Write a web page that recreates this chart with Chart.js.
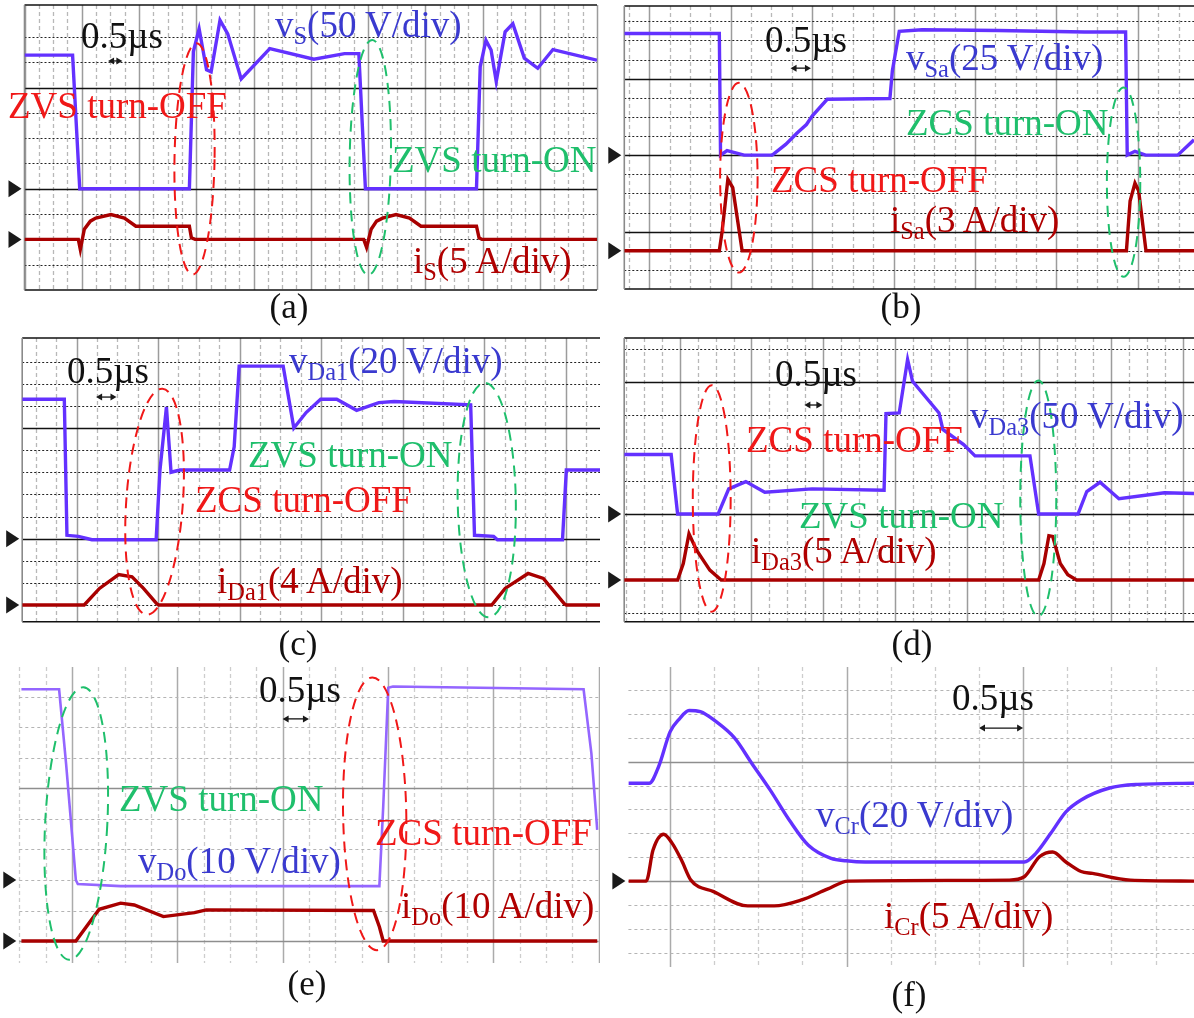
<!DOCTYPE html>
<html lang="en">
<head>
<meta charset="UTF-8" />
<title>Soft-switching waveforms</title>
<script src="https://cdn.jsdelivr.net/npm/chart.js@4.4.1/dist/chart.umd.min.js"></script>
<style>
  *{margin:0;padding:0;box-sizing:border-box}
  body{width:1194px;height:1018px;background:#fff;position:relative;overflow:hidden;font-family:"Liberation Serif","Times New Roman",serif}
  .tile{position:absolute}
  .lbl{position:absolute;white-space:nowrap;line-height:1}
  .lbl sub{font-size:0.66em;vertical-align:-0.28em;line-height:0}
</style>
</head>
<body>
<canvas id="pa" class="tile" width="600" height="330" style="left:0;top:0"></canvas>
<canvas id="pb" class="tile" width="594" height="330" style="left:600px;top:0"></canvas>
<canvas id="pc" class="tile" width="600" height="330" style="left:0;top:330px"></canvas>
<canvas id="pd" class="tile" width="594" height="330" style="left:600px;top:330px"></canvas>
<canvas id="pe" class="tile" width="600" height="358" style="left:0;top:660px"></canvas>
<canvas id="pf" class="tile" width="594" height="358" style="left:600px;top:660px"></canvas>
<script>
const vS  = [[0,264],[1.68,264],[1.93,0],[5.76,0],[5.90,271],[6.10,316],[6.36,235],[6.52,231],[6.83,333],[7.10,306],[7.57,217],[8.57,277],[10.11,256],[11.18,267],[11.68,267],[11.91,0],[15.79,0],[15.92,241],[16.12,293],[16.30,274],[16.48,212],[16.79,310],[17.06,326],[17.46,258],[17.93,238],[18.46,275],[20,254]];
const iS  = [[0,0],[1.88,0],[1.95,-2],[2.09,2],[2.30,3.6],[2.49,4.2],[3.02,4.9],[3.49,4.2],[3.89,2.6],[5.76,2.6],[5.83,0.3],[5.96,0],[11.85,0],[11.95,-1.6],[12.11,2],[12.30,3.6],[12.51,4.2],[12.98,4.9],[13.45,4.2],[13.85,2.6],[15.79,2.6],[15.88,0.3],[15.98,0],[20,0]];

const vSa = [[-0.614,159],[1.72,159],[1.75,0],[1.91,6],[2.33,0],[3.02,0],[3.35,14],[3.63,29],[3.86,40],[4.0,51],[4.37,73],[5.91,74],[5.97,110],[6.14,162],[6.70,164],[8.56,163],[10.70,161],[11.70,161],[11.74,0],[11.93,5],[12.19,0],[12.98,0],[13.38,20]];
const iSa = [[-0.614,0],[1.72,0],[1.79,3.1],[1.93,11.2],[2.05,9.9],[2.28,0],[11.72,0],[11.81,7.8],[11.93,10.6],[12.02,9.4],[12.20,0],[13.38,0]];

const vDa1 = [[-1.333,126],[-0.30,126],[-0.235,3],[0.047,2],[0.376,-1],[1.953,-1],[2.047,62],[2.206,119],[2.319,60],[2.535,62],[3.755,62],[3.868,83],[3.99,156],[5.07,156],[5.332,100],[5.633,114],[5.99,126],[6.384,126],[6.872,116],[7.417,123],[7.792,124],[9.67,121],[9.764,3],[10.233,2],[10.327,-1],[11.923,-1],[12.017,62],[12.843,62]];
const iDa1 = [[-1.333,0],[0.188,0],[0.563,3.0],[1.033,5.5],[1.361,5.1],[1.643,3.0],[1.971,0.2],[2.018,0],[10.186,0],[10.515,3.0],[11.078,5.7],[11.453,4.8],[11.97,0.2],[12.017,0],[12.843,0]];

const vDa3 = [[-1.537,90],[-0.232,90],[-0.053,0],[1.074,0],[1.368,38],[1.842,49],[2.368,33],[3.684,38],[5.684,36],[5.737,152],[6.105,153],[6.337,234],[6.474,201],[7.21,153],[7.316,128],[7.895,105],[8.21,88],[9.737,88],[9.979,0],[11.074,0],[11.316,34],[11.684,48],[12.21,23],[13.474,32],[14.295,31]];
const iDa3 = [[-1.537,0],[-0.053,0],[0.105,2.5],[0.263,7.0],[0.474,4.5],[0.842,1.5],[1.158,0],[9.979,0],[10.126,2.5],[10.263,6.7],[10.368,6.6],[10.579,2.5],[10.789,0.8],[11.031,0],[14.295,0]];

const vDo = [[-0.96,62.5],[-0.244,62.5],[-0.111,38],[0.074,0],[0.111,-1.3],[0.924,-2],[5.837,-2],[5.91,24],[6.006,63],[6.095,63.4],[9.715,62.5],[9.863,41.5],[9.974,16.4]];
const iDo = [[-0.96,0],[0.074,0],[0.517,10.4],[0.924,12.4],[1.182,11.8],[1.736,8.0],[2.327,9.3],[2.549,10.2],[5.726,10.0],[5.837,4.7],[5.91,0],[9.974,0]];

const vCr = [[-0.472,82],[-0.236,82],[-0.129,96],[0,125],[0.107,136],[0.215,143],[0.343,142],[0.515,134],[0.73,120],[0.923,99],[1.137,76],[1.352,51],[1.567,30],[1.824,19],[1.996,17],[2.21,16],[4.013,16],[4.142,23],[4.313,40],[4.485,58],[4.657,68],[4.979,78],[5.301,81],[5.936,82]];
const iCr = [[-0.472,0],[-0.27,0],[-0.193,6.5],[-0.073,9.8],[0.021,8.0],[0.129,4.4],[0.236,0.2],[0.494,-2.2],[0.88,-5.2],[1.18,-5.2],[1.481,-4.0],[1.781,-1.7],[2.017,0],[3.841,0.2],[4.013,0.9],[4.185,5.1],[4.335,6.1],[4.485,4.0],[4.657,2.0],[4.786,1.6],[5.215,0.2],[5.936,0]];

// marked switching events: [t centre, div centre, half-width µs, half-height div, tilt deg]
const offA = [5.94, 5.18, 0.70, 4.57, 1],  onA = [12.08, 5.24, 0.72, 4.64, 1];
const offB = [2.20, 5.82, 0.46, 4.96, 0],  onB = [11.65, 5.59, 0.41, 4.95, 0];
const offC = [1.915, 4.67, 0.695, 5.12, 4], onC = [10.064, 4.74, 0.713, 5.3, -1];
const offD = [0.895, 2.47, 0.526, 3.43, 0], onD = [9.968, 2.47, 0.50, 3.57, 0];
const onE  = [0.081, 3.85, 0.59, 4.47, 3],  offE = [5.748, 4.17, 0.60, 4.47, -1];

const RED = '#f01818', GREEN = '#1fbf6c', VIOLET = '#6331ff', MAROON = '#a80000';

const panels = [
  {id:'pa', pad:{left:24.5,top:5,right:3,bottom:40}, t:[0,20], div:[0,11.26], vGnd:4, vPer:50, iGnd:2, iPer:5,
   v:vS, i:iS, hSolid:[4,8], hDash:[1,2,3,5,6,7,9,10], dark:true, gnd:[4,2], arrow:[2.92,3.42,9.05],
   ovals:[[offA,RED],[onA,GREEN]]},
  {id:'pb', pad:{left:24.3,top:6,right:0,bottom:41}, t:[-0.614,13.38], div:[0,14.8], vGnd:7, vPer:25, iGnd:2, iPer:3,
   v:vSa, i:iSa, hSolid:[3,7,11], hDash:[1,2,4,5,6,8,9,10,12,13,14], dark:true, gnd:[7,2], arrow:[3.47,3.97,11.55],
   ovals:[[offB,RED],[onB,GREEN]]},
  {id:'pc', pad:{left:22.2,top:8,right:0,bottom:38.3}, t:[-1.333,12.843], div:[-0.755,12.07], vGnd:3, vPer:20, iGnd:0, iPer:4,
   v:vDa1, i:iDa1, hSolid:[3,8], hDash:[0,1,2,4,5,6,7,9,10,11], dark:true, gnd:[3,0], arrow:[0.48,0.98,9.4],
   ovals:[[offC,RED],[onC,GREEN]]},
  {id:'pd', pad:{left:24.2,top:8,right:0,bottom:38.3}, t:[-1.537,14.295], div:[-1.264,7.33], vGnd:2, vPer:50, iGnd:0, iPer:5,
   v:vDa3, i:iDa3, hSolid:[2,6], hDash:[-1,0,1,3,4,5,7], dark:true, gnd:[2,0], arrow:[3.47,3.97,5.3],
   ovals:[[offD,RED],[onD,GREEN]]},
  {id:'pe', pad:{left:19.3,top:7,right:1.4,bottom:55}, t:[-1.0,10.0], div:[-0.72,8.98], vGnd:2, vPer:10, iGnd:0, iPer:10,
   v:vDo, i:iDo, hSolid:[0,5], hDash:[1,2,3,4,6,7,8], dark:false, gnd:[2,0], arrow:[4.0,4.5,7.28],
   ovals:[[onE,GREEN],[offE,RED]], vColor:'#9466ff'},
  {id:'pf', pad:{left:28.4,top:7,right:0,bottom:51}, t:[-0.472,5.936], div:[-3.6,8.97], vGnd:0, vPer:20, iGnd:0, iPer:5,
   v:vCr, i:iCr, hSolid:[0,5], hDash:[-3,-2,-1,1,2,3,4,6,7,8], dark:false, gnd:[0], arrow:[3.5,4.0,6.41],
   ovals:[], smooth:true}
];

function seg(ctx, x0, y0, x1, y1){ ctx.beginPath(); ctx.moveTo(x0,y0); ctx.lineTo(x1,y1); ctx.stroke(); }

// scope screen: graticule, ground markers, time arrow, dashed ovals
function scopePlugin(p){
  return {
    id:'scope',
    beforeDatasetsDraw(chart){
      const {ctx, chartArea:a, scales:{x, div}} = chart;
      ctx.save();
      for (let t = Math.ceil(x.min/0.5)*0.5; t <= x.max + 1e-6; t += 0.5){
        const px = Math.round(x.getPixelForValue(t)) + 0.5;
        const major = Math.abs(t/2 - Math.round(t/2)) < 1e-6;
        ctx.setLineDash(major ? [] : [4,3]);
        ctx.strokeStyle = major ? (p.dark ? '#9c9c9c' : '#ababab') : (p.dark ? '#b8b8b8' : '#cdcdcd');
        ctx.lineWidth = major ? 1.5 : 1.3;
        seg(ctx, px, a.top, px, a.bottom);
      }
      ctx.setLineDash(p.dark ? [2,2] : [3,3]);
      ctx.strokeStyle = p.dark ? '#222' : '#b4b4b4';
      ctx.lineWidth = 1;
      p.hDash.forEach(k => { const py = Math.round(div.getPixelForValue(k)) + 0.5; seg(ctx, a.left, py, a.right, py); });
      ctx.setLineDash([]);
      ctx.strokeStyle = p.dark ? '#111' : '#8e8e8e';
      ctx.lineWidth = 1.3;
      p.hSolid.forEach(k => { const py = Math.round(div.getPixelForValue(k)) + 0.5; seg(ctx, a.left, py, a.right, py); });
      if (p.dark){
        ctx.lineWidth = 1.6; ctx.strokeStyle = '#111';
        seg(ctx, a.left, a.top, a.right, a.top);
        seg(ctx, a.left, a.bottom, a.right, a.bottom);
        ctx.strokeStyle = '#8a8a8a';
        seg(ctx, a.left, a.top, a.left, a.bottom);
      }
      ctx.restore();
    },
    afterDatasetsDraw(chart){
      const {ctx, chartArea:a, scales:{x, div}} = chart;
      ctx.save();
      ctx.fillStyle = '#1a1a1a';
      p.gnd.forEach(g => {
        const py = div.getPixelForValue(g);
        ctx.beginPath(); ctx.moveTo(a.left-3, py); ctx.lineTo(a.left-16, py-8.5); ctx.lineTo(a.left-16, py+8.5); ctx.closePath(); ctx.fill();
      });
      const [t0, t1, dv] = p.arrow;
      const ax0 = x.getPixelForValue(t0), ax1 = x.getPixelForValue(t1), ay = div.getPixelForValue(dv);
      ctx.strokeStyle = '#111'; ctx.lineWidth = 1.3;
      seg(ctx, ax0+3, ay, ax1-3, ay);
      [[ax0,1],[ax1,-1]].forEach(([hx,s]) => {
        ctx.beginPath(); ctx.moveTo(hx, ay); ctx.lineTo(hx+6*s, ay-3.5); ctx.lineTo(hx+6*s, ay+3.5); ctx.closePath(); ctx.fill();
      });
      ctx.lineWidth = 2; ctx.setLineDash([11,7]);
      p.ovals.forEach(([o, col]) => {
        const cx = x.getPixelForValue(o[0]), cy = div.getPixelForValue(o[1]);
        const rx = Math.abs(x.getPixelForValue(o[0]+o[2]) - cx);
        const ry = Math.abs(div.getPixelForValue(o[1]+o[3]) - cy);
        ctx.strokeStyle = col;
        ctx.beginPath(); ctx.ellipse(cx, cy, rx, ry, o[4]*Math.PI/180, 0, Math.PI*2); ctx.stroke();
      });
      ctx.restore();
    }
  };
}

panels.forEach(p => {
  const range = (g, per) => ({min:(p.div[0]-g)*per, max:(p.div[1]-g)*per});
  const ds = (data, axis, color, w) => ({data, yAxisID:axis, borderColor:color, borderWidth:w, pointRadius:0,
    tension:0, cubicInterpolationMode: p.smooth ? 'monotone' : 'default', fill:false});
  new Chart(document.getElementById(p.id), {
    type:'line',
    data:{datasets:[ds(p.v,'v',p.vColor || VIOLET, p.vColor ? 2.6 : 3.4), ds(p.i,'i',MAROON,3.4)]},
    options:{
      responsive:false, animation:false, devicePixelRatio:1,
      layout:{padding:p.pad},
      plugins:{legend:{display:false}, tooltip:{enabled:false}},
      scales:{
        x:{type:'linear', min:p.t[0], max:p.t[1], display:false},
        v:{axis:'y', type:'linear', ...range(p.vGnd,p.vPer), display:false},
        i:{axis:'y', type:'linear', ...range(p.iGnd,p.iPer), display:false},
        div:{axis:'y', type:'linear', min:p.div[0], max:p.div[1], display:false}
      }
    },
    plugins:[scopePlugin(p)]
  });
});

// text labels: [html, left, baseline, colour, size, centred]
const BLUE = '#3a3acf', DRED = '#b00000', BLACK = '#111';
const labels = [
  ['0.5µs',81,48,BLACK,37], ['v<sub>S</sub>(50 V/div)',275,37,BLUE,37], ['ZVS turn-OFF',8,118,RED,37],
  ['ZVS turn-ON',392,172,GREEN,37], ['i<sub>S</sub>(5 A/div)',413,273,DRED,37], ['(a)',289,318,BLACK,35,true],
  ['0.5µs',765,52,BLACK,37], ['v<sub>Sa</sub>(25 V/div)',906,70,BLUE,37], ['ZCS turn-ON',906,135,GREEN,37],
  ['ZCS turn-OFF',771,192,RED,37], ['i<sub>Sa</sub>(3 A/div)',890,232,DRED,37], ['(b)',901,318,BLACK,35,true],
  ['0.5µs',67,383,BLACK,37], ['v<sub>Da1</sub>(20 V/div)',289,373,BLUE,37], ['ZVS turn-ON',248,467,GREEN,37],
  ['ZCS turn-OFF',195,512,RED,37], ['i<sub>Da1</sub>(4 A/div)',217,593,DRED,37], ['(c)',298,655,BLACK,35,true],
  ['0.5µs',775,386,BLACK,37], ['v<sub>Da3</sub>(50 V/div)',970,428,BLUE,37], ['ZCS turn-OFF',746,452,RED,37],
  ['ZVS turn-ON',799,528,GREEN,37], ['i<sub>Da3</sub>(5 A/div)',751,563,DRED,37], ['(d)',912,655,BLACK,35,true],
  ['0.5µs',259,702,BLACK,37], ['ZVS turn-ON',119,811,GREEN,37], ['v<sub>Do</sub>(10 V/div)',138,873,BLUE,37],
  ['ZCS turn-OFF',375,845,RED,37], ['i<sub>Do</sub>(10 A/div)',401,918,DRED,37], ['(e)',307,995,BLACK,35,true],
  ['0.5µs',952,710,BLACK,37], ['v<sub>Cr</sub>(20 V/div)',816,827,BLUE,37], ['i<sub>Cr</sub>(5 A/div)',884,928,DRED,37],
  ['(f)',909,1006,BLACK,35,true]
];
labels.forEach(([html, x, base, color, size, centre]) => {
  const el = document.createElement('div');
  el.className = 'lbl';
  el.innerHTML = html;
  el.style.left = x + 'px';
  el.style.top = (base - 0.8375*size) + 'px';
  el.style.color = color;
  el.style.fontSize = size + 'px';
  if (centre) el.style.transform = 'translateX(-50%)';
  document.body.appendChild(el);
});
</script>
</body>
</html>
